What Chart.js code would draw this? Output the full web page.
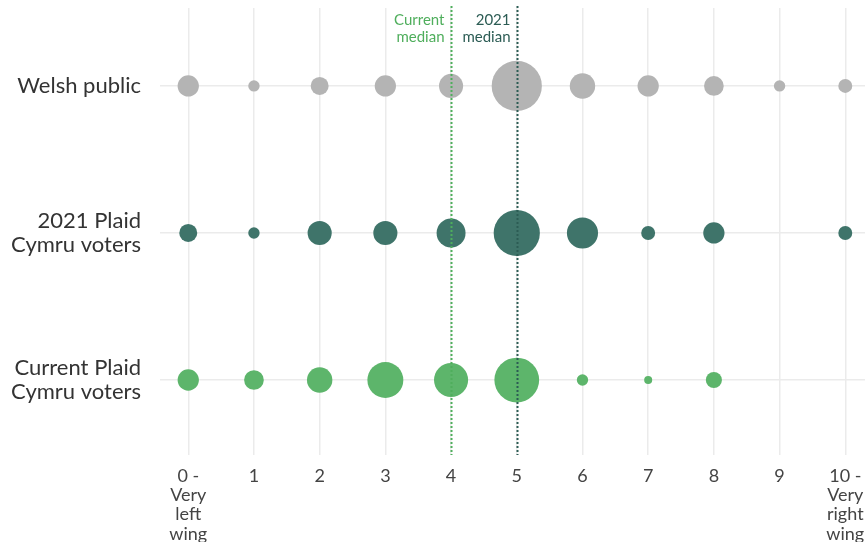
<!DOCTYPE html>
<html>
<head>
<meta charset="utf-8">
<script src="https://cdn.jsdelivr.net/npm/chart.js@4"></script>
<style>
  html, body { margin: 0; padding: 0; background: #fff; }
  #wrap { width: 865px; height: 542px; }
</style>
</head>
<body>
<div id="wrap"><canvas id="chart"></canvas></div>
<script>
// scale positions 0..10, share of each group (%) at each position
const positions = [0, 1, 2, 3, 4, 5, 6, 7, 8, 9, 10];
const groups = ['Current Plaid Cymru voters', '2021 Plaid Cymru voters', 'Welsh public'];
const welshPublic = [7, 2, 5, 7, 9, 39, 10, 7, 6, 2, 3];
const plaid2021 = [5, 2, 9, 9, 13, 33, 15, 3, 7, 0, 3];
const plaidCurrent = [7, 6, 10, 20, 18, 31, 2, 1, 4, 0, 0];
const medianCurrent = 4;
const median2021 = 5;

const rowLabels = {
  2: ['Welsh public'],
  1: ['2021 Plaid', 'Cymru voters'],
  0: ['Current Plaid', 'Cymru voters']
};
const tickLabels = {
  0: ['0 -', 'Very', 'left', 'wing'],
  10: ['10 -', 'Very', 'right', 'wing']
};

const toPoints = (vals, row) => positions
  .map((p, i) => ({ x: p, y: row, v: vals[i] }))
  .filter(d => d.v > 0);

// bubble area proportional to share
const radius = ctx => 4.02 * Math.sqrt(ctx.raw ? ctx.raw.v : 0);

const medianLines = {
  id: 'medianLines',
  afterDatasetsDraw(chart) {
    const { ctx, chartArea, scales } = chart;
    const lines = [
      { x: medianCurrent, color: '#4fae5c', text: ['Current', 'median'] },
      { x: median2021, color: '#2c5c54', text: ['2021', 'median'] }
    ];
    ctx.save();
    lines.forEach(l => {
      const px = Math.round(scales.x.getPixelForValue(l.x)) + 0.5;
      ctx.strokeStyle = l.color;
      ctx.lineWidth = 2;
      ctx.setLineDash([2, 2]);
      ctx.beginPath();
      ctx.moveTo(px, 6);
      ctx.lineTo(px, chartArea.bottom);
      ctx.stroke();
      ctx.fillStyle = l.color;
      ctx.font = '15px Lato';
      ctx.textAlign = 'right';
      ctx.textBaseline = 'middle';
      l.text.forEach((t, i) => ctx.fillText(t, px - 7, 20 + i * 17));
    });
    ctx.restore();
  }
};

new Chart(document.getElementById('chart'), {
  type: 'bubble',
  data: {
    datasets: [
      { label: 'Welsh public', data: toPoints(welshPublic, 2), backgroundColor: '#b4b4b4' },
      { label: '2021 Plaid Cymru voters', data: toPoints(plaid2021, 1), backgroundColor: '#3f746a' },
      { label: 'Current Plaid Cymru voters', data: toPoints(plaidCurrent, 0), backgroundColor: '#5db56b' }
    ]
  },
  options: {
    responsive: true,
    maintainAspectRatio: false,
    animation: false,
    layout: { autoPadding: false, padding: { top: 8, right: 0, left: 0, bottom: 0 } },
    elements: { point: { radius: radius, hoverRadius: radius, borderWidth: 0 } },
    plugins: { legend: { display: false }, tooltip: { enabled: false } },
    scales: {
      x: {
        type: 'linear',
        min: -0.43,
        max: 10.3,
        afterBuildTicks: s => { s.ticks = positions.map(v => ({ value: v })); },
        afterFit: s => { s.height = 87; s.paddingLeft = 0; s.paddingRight = 0; },
        border: { display: false },
        grid: { color: '#ebebeb', lineWidth: 1.5, drawTicks: false },
        ticks: {
          padding: 11,
          color: '#444',
          font: { family: 'Lato', size: 18, lineHeight: 1.08 },
          maxRotation: 0,
          autoSkip: false,
          callback: v => tickLabels[v] || String(v)
        }
      },
      y: {
        type: 'linear',
        min: -0.51,
        max: 2.53,
        afterBuildTicks: s => { s.ticks = [0, 1, 2].map(v => ({ value: v })); },
        afterFit: s => { s.width = 160; s.paddingTop = 0; s.paddingBottom = 0; },
        border: { display: false },
        grid: { color: '#ebebeb', lineWidth: 1.5, drawTicks: false },
        ticks: {
          padding: 19,
          color: '#333',
          font: { family: 'Lato', size: 22, lineHeight: 1.1 },
          callback: v => rowLabels[v]
        }
      }
    }
  },
  plugins: [medianLines]
});
</script>
</body>
</html>
